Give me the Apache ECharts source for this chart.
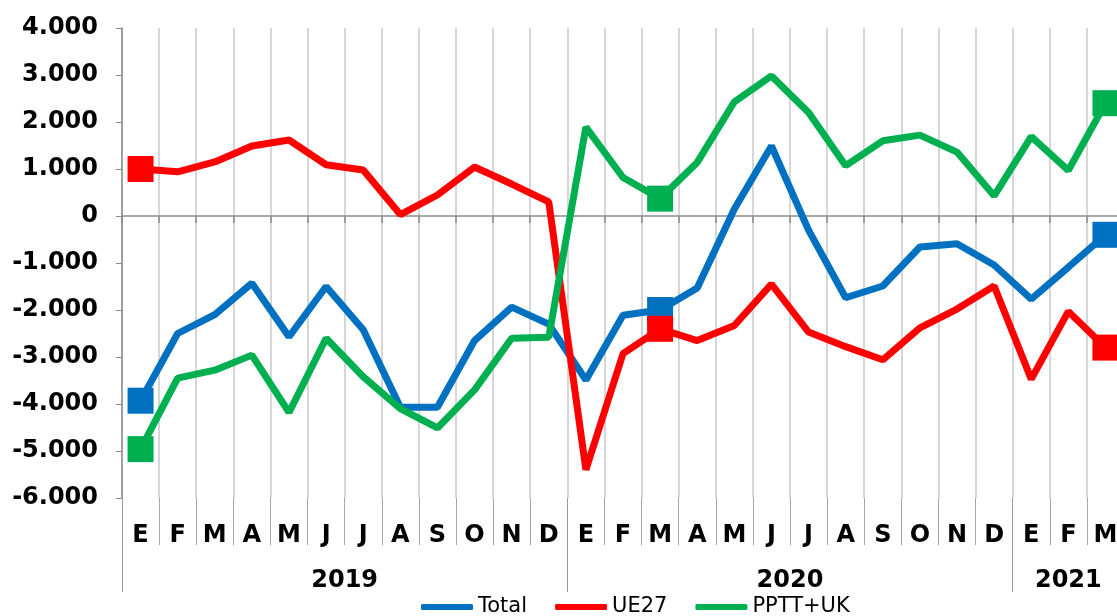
<!DOCTYPE html>
<html>
<head>
<meta charset="utf-8">
<script src="https://cdn.jsdelivr.net/npm/echarts@6/dist/echarts.min.js"></script>
<style>
  html, body { margin: 0; padding: 0; background: #fff; }
  #main { width: 1117px; height: 616px; }
</style>
</head>
<body>
<div id="main"></div>
<script>
// months (E = enero ...), 2019 -> 2021
var months = ['E','F','M','A','M','J','J','A','S','O','N','D',
              'E','F','M','A','M','J','J','A','S','O','N','D',
              'E','F','M'];
var years = ['2019', '2020', '2021'];
var yearCounts = [12, 12, 3];

var total = [-3930, -2500, -2100, -1430, -2570, -1500, -2420, -4070, -4070, -2650, -1940, -2300,
             -3490, -2110, -2000, -1530, 150, 1490, -300, -1740, -1490, -660, -590, -1043,
             -1770, -1090, -400];
var ue27 = [1000, 940, 1150, 1490, 1617, 1090, 980, 30, 447, 1043, 680, 300,
            -5400, -2930, -2400, -2650, -2330, -1450, -2470, -2780, -3060, -2380, -1980, -1490,
            -3470, -2030, -2800];
var pptt = [-4960, -3450, -3280, -2960, -4180, -2600, -3420, -4100, -4510, -3700, -2600, -2580,
            1890, 820, 370, 1140, 2430, 2980, 2200, 1070, 1600, 1720, 1360, 430,
            1690, 970, 2400];

// points that carry a square marker
var markIdx = [0, 14, 26];

function fmt(v) {
    var s = String(Math.abs(v)).replace(/\B(?=(\d{3})+(?!\d))/g, '.');
    return (v < 0 ? '-' : '') + s;
}

// year boundaries and centres on a 0..N scale
var yearEdges = [0], yearMids = [];
var acc = 0;
yearCounts.forEach(function (c) {
    yearMids.push(acc + c / 2);
    acc += c;
    yearEdges.push(acc);
});

var font = 'DejaVu Sans';

function lineSeries(name, data, color) {
    return {
        name: name,
        type: 'line',
        data: data,
        xAxisIndex: 0,
        symbol: 'rect',
        showAllSymbol: true,
        symbolSize: function (v, p) {
            return markIdx.indexOf(p.dataIndex) >= 0 ? 26 : 0;
        },
        itemStyle: { color: color },
        lineStyle: { color: color, width: 7 },
        emphasis: { disabled: true }
    };
}

var myChart = echarts.init(document.getElementById('main'));
myChart.setOption({
    animation: false,
    grid: { left: 122, top: 28, width: 1002, height: 470, outerBoundsMode: 'none', containLabel: false },
    legend: {
        left: 416,
        top: 590,
        icon: 'roundRect',
        itemWidth: 52,
        itemHeight: 6,
        itemGap: 28,
        textStyle: { fontFamily: font, fontSize: 21, color: '#000', lineHeight: 24 },
        data: ['Total', 'UE27', 'PPTT+UK']
    },
    xAxis: [
        {
            // zero line with small ticks
            type: 'category',
            data: months,
            boundaryGap: true,
            position: 'bottom',
            axisLine: { onZero: true, lineStyle: { color: '#8c8c8c', width: 1.5 } },
            axisTick: { show: true, interval: 0, length: 7, lineStyle: { color: '#8c8c8c', width: 1.5 } },
            axisLabel: { show: false },
            splitLine: { show: false }
        },
        {
            // month labels + vertical grid
            type: 'category',
            data: months,
            boundaryGap: true,
            position: 'bottom',
            axisLine: { show: false, onZero: false },
            axisTick: { show: true, interval: 0, length: 47, lineStyle: { color: '#a6a6a6', width: 1 } },
            axisLabel: {
                interval: 0, margin: 26,
                fontFamily: font, fontWeight: 'bold', fontSize: 24, color: '#000'
            },
            splitLine: { show: true, interval: 0, lineStyle: { color: '#c8c8c8', width: 1.5 } }
        },
        {
            // years
            type: 'value',
            min: 0,
            max: months.length,
            position: 'bottom',
            axisLine: { show: false, onZero: false },
            axisTick: {
                show: true, length: 94, customValues: yearEdges,
                lineStyle: { color: '#9a9a9a', width: 1 }
            },
            axisLabel: {
                customValues: yearMids, margin: 71,
                fontFamily: font, fontWeight: 'bold', fontSize: 24, color: '#000',
                formatter: function (v) { return years[yearMids.indexOf(v)]; }
            },
            splitLine: { show: false }
        }
    ],
    yAxis: {
        type: 'value',
        min: -6000,
        max: 4000,
        interval: 1000,
        axisLine: { show: true, lineStyle: { color: '#8c8c8c', width: 1.5 } },
        axisTick: { show: true, length: 6, lineStyle: { color: '#8c8c8c' } },
        axisLabel: {
            margin: 24,
            fontFamily: font, fontWeight: 'bold', fontSize: 24, color: '#000',
            formatter: fmt
        },
        splitLine: { show: false }
    },
    series: [
        lineSeries('Total', total, '#0070C0'),
        lineSeries('UE27', ue27, '#FF0000'),
        lineSeries('PPTT+UK', pptt, '#00B050')
    ]
});
</script>
</body>
</html>
